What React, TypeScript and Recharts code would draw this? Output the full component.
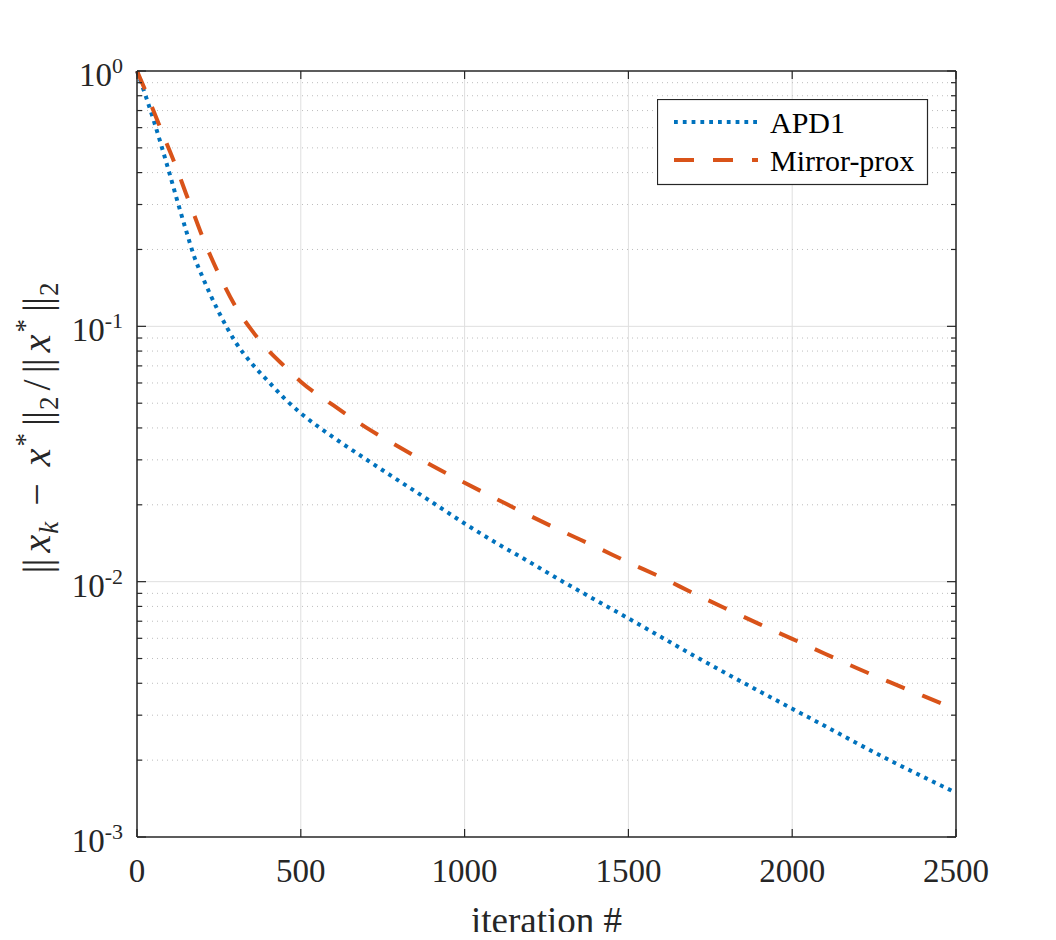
import React from "react";
import {
  LineChart,
  Line,
  XAxis,
  YAxis,
  CartesianGrid,
  ReferenceLine,
  Legend,
} from "recharts";

const ITERATIONS = [
  0, 25, 50, 75, 100, 125, 150, 175, 200, 250, 300, 350, 400, 450, 500, 600,
  700, 800, 900, 1000, 1100, 1200, 1300, 1400, 1500, 1600, 1700, 1800, 1900,
  2000, 2100, 2200, 2300, 2400, 2500,
];
const APD1 = [
  1, 0.809, 0.646, 0.507, 0.394, 0.304, 0.237, 0.187, 0.156, 0.1135, 0.0871,
  0.0716, 0.061, 0.0522, 0.0457, 0.0367, 0.0301, 0.0248, 0.0205, 0.0169,
  0.0141, 0.0119, 0.01, 0.00847, 0.00718, 0.00607, 0.00513, 0.00436, 0.00372,
  0.00318, 0.00272, 0.00232, 0.00199, 0.00172, 0.00149,
];
const MIRROR_PROX = [
  1, 0.841, 0.7, 0.582, 0.486, 0.403, 0.33, 0.272, 0.224, 0.16, 0.12, 0.0966,
  0.0807, 0.0698, 0.0607, 0.049, 0.0401, 0.0337, 0.0285, 0.0244, 0.021,
  0.0181, 0.0157, 0.0137, 0.0119, 0.0104, 0.00899, 0.00782, 0.00682, 0.00597,
  0.00522, 0.00457, 0.00403, 0.00357, 0.00316,
];
const X_TICKS = [0, 500, 1000, 1500, 2000, 2500];
const Y_MAJOR = [1, 0.1, 0.01, 0.001];
const Y_EXPONENTS = ["0", "-1", "-2", "-3"];
const Y_MINOR = [
  0.9, 0.8, 0.7, 0.6, 0.5, 0.4, 0.3, 0.2, 0.09, 0.08, 0.07, 0.06, 0.05, 0.04,
  0.03, 0.02, 0.009, 0.008, 0.007, 0.006, 0.005, 0.004, 0.003, 0.002,
];

const data = ITERATIONS.map((it, i) => ({
  iter: it,
  apd1: APD1[i],
  mirror: MIRROR_PROX[i],
}));

const FONT = '"Liberation Serif", "Times New Roman", serif';
const AXIS = "#262626";
const BLUE = "#0072BD";
const ORANGE = "#D95319";
const BLUE_DASH = "3.8 5";
const ORANGE_DASH = "20 19";

const YTick = (props: any) => {
  const { x, y, payload, side } = props;
  const idx = Y_MAJOR.indexOf(payload.value);
  const len = idx >= 0 ? 9 : 5;
  const dir = side === "left" ? 1 : -1;
  return (
    <g>
      <line x1={x} y1={y} x2={x + dir * len} y2={y} stroke={AXIS} strokeWidth={1.2} />
      {side === "left" && idx >= 0 && (
        <text x={x - 14} y={y + 15} textAnchor="end" fontFamily={FONT} fontSize={33} fill={AXIS}>
          10
          <tspan dy={-13} fontSize={22}>
            {Y_EXPONENTS[idx]}
          </tspan>
        </text>
      )}
    </g>
  );
};

const XTick = (props: any) => {
  const { x, y, payload, side } = props;
  const dir = side === "bottom" ? -1 : 1;
  return (
    <g>
      <line x1={x} y1={y} x2={x} y2={y + dir * 8} stroke={AXIS} strokeWidth={1.2} />
      {side === "bottom" && (
        <text x={x} y={y + 45} textAnchor="middle" fontFamily={FONT} fontSize={33} fill={AXIS}>
          {payload.value}
        </text>
      )}
    </g>
  );
};

const renderXLabel = (props: any) => {
  const vb = props.viewBox || { x: 129, y: 829, width: 819, height: 93 };
  return (
    <text
      x={vb.x + vb.width / 2}
      y={vb.y + 96}
      textAnchor="middle"
      fontFamily={FONT}
      fontSize={37}
      fill={AXIS}
    >
      iteration #
    </text>
  );
};

// ||x_k - x*||_2 / ||x*||_2, rotated
const renderYLabel = (props: any) => {
  const vb = props.viewBox || { x: 0, y: 63, width: 129, height: 766 };
  const cx = vb.x + 42;
  const cy = vb.y + vb.height / 2 - 26;
  const sub = 27;
  return (
    <text
      transform={`translate(${cx},${cy}) rotate(-90)`}
      textAnchor="middle"
      fontFamily={FONT}
      fontSize={40}
      fill={AXIS}
    >
      <tspan letterSpacing={-1}>||</tspan>
      <tspan fontStyle="italic" dx={7}>x</tspan>
      <tspan fontStyle="italic" fontSize={sub} dy={8} dx={1}>k</tspan>
      <tspan dy={-8} dx={16}>−</tspan>
      <tspan fontStyle="italic" dx={17}>x</tspan>
      <tspan fontSize={sub} dy={-16} dx={2}>*</tspan>
      <tspan dy={16} dx={7} letterSpacing={-1}>||</tspan>
      <tspan fontSize={sub} dy={8} dx={2}>2</tspan>
      <tspan dy={-8} dx={6}>/</tspan>
      <tspan dx={6} letterSpacing={-1}>||</tspan>
      <tspan fontStyle="italic" dx={7}>x</tspan>
      <tspan fontSize={sub} dy={-16} dx={2}>*</tspan>
      <tspan dy={16} dx={7} letterSpacing={-1}>||</tspan>
      <tspan fontSize={sub} dy={8} dx={2}>2</tspan>
    </text>
  );
};

const renderLegend = (props: any) => {
  const items = props.payload || [];
  return (
    <svg width={272} height={87} style={{ display: "block" }}>
      <rect x={0.5} y={0.5} width={270} height={85} fill="#ffffff" stroke={AXIS} strokeWidth={1.2} />
      {items.map((entry: any, i: number) => {
        const cy = 23 + i * 38;
        const dash = i === 0 ? BLUE_DASH : ORANGE_DASH;
        return (
          <g key={`leg-${i}`}>
            <line x1={17} y1={cy} x2={101} y2={cy} stroke={entry.color} strokeWidth={4} strokeDasharray={dash} />
            <text x={113} y={cy + 11} fontFamily={FONT} fontSize={30} fill="#000">
              {entry.value}
            </text>
          </g>
        );
      })}
    </svg>
  );
};

export default function App() {
  return (
    <div style={{ width: 1040, height: 932, marginBottom: -8, background: "#fff" }}>
      <LineChart
        width={1040}
        height={932}
        data={data}
        margin={{ top: 53, right: 82, left: 0, bottom: 10 }}
      >
        <CartesianGrid xAxisId="b" yAxisId="l" horizontal={false} stroke="#dfdfdf" strokeWidth={1} />
        {Y_MINOR.map((v) => (
          <ReferenceLine
            key={`minor-${v}`}
            xAxisId="b"
            yAxisId="l"
            y={v}
            stroke="#bdbdbd"
            strokeWidth={1}
            strokeDasharray="1 4"
          />
        ))}
        {Y_MAJOR.filter((v) => v < 1 && v > 0.001).map((v) => (
          <ReferenceLine key={`major-${v}`} xAxisId="b" yAxisId="l" y={v} stroke="#dfdfdf" strokeWidth={1} />
        ))}
        <XAxis
          xAxisId="b"
          dataKey="iter"
          type="number"
          domain={[0, 2500]}
          ticks={X_TICKS}
          interval={0}
          height={93}
          tickSize={0}
          tickMargin={0}
          tickLine={false}
          axisLine={{ stroke: AXIS, strokeWidth: 1.5 }}
          tick={<XTick side="bottom" />}
          label={renderXLabel}
        />
        <XAxis
          xAxisId="t"
          orientation="top"
          dataKey="iter"
          type="number"
          domain={[0, 2500]}
          ticks={X_TICKS}
          interval={0}
          height={10}
          tickSize={0}
          tickMargin={0}
          tickLine={false}
          axisLine={{ stroke: AXIS, strokeWidth: 1.5 }}
          tick={<XTick side="top" />}
        />
        <YAxis
          yAxisId="l"
          scale="log"
          type="number"
          domain={[0.001, 1]}
          allowDataOverflow
          ticks={[...Y_MAJOR, ...Y_MINOR]}
          interval={0}
          width={129}
          tickSize={0}
          tickMargin={0}
          tickLine={false}
          axisLine={{ stroke: AXIS, strokeWidth: 1.5 }}
          tick={<YTick side="left" />}
          label={renderYLabel}
        />
        <YAxis
          yAxisId="r"
          orientation="right"
          scale="log"
          type="number"
          domain={[0.001, 1]}
          allowDataOverflow
          ticks={[...Y_MAJOR, ...Y_MINOR]}
          interval={0}
          width={10}
          tickSize={0}
          tickMargin={0}
          tickLine={false}
          axisLine={{ stroke: AXIS, strokeWidth: 1.5 }}
          tick={<YTick side="right" />}
        />
        <Line
          xAxisId="b"
          yAxisId="l"
          type="monotone"
          dataKey="apd1"
          name="APD1"
          stroke={BLUE}
          strokeWidth={4}
          strokeDasharray={BLUE_DASH}
          dot={false}
          activeDot={false}
          isAnimationActive={false}
        />
        <Line
          xAxisId="b"
          yAxisId="l"
          type="monotone"
          dataKey="mirror"
          name="Mirror-prox"
          stroke={ORANGE}
          strokeWidth={4}
          strokeDasharray={ORANGE_DASH}
          dot={false}
          activeDot={false}
          isAnimationActive={false}
        />
        <Legend
          layout="horizontal"
          verticalAlign="middle"
          align="center"
          content={renderLegend}
          wrapperStyle={{ position: "absolute", left: 649, top: 91, width: 272, height: 87 }}
        />
      </LineChart>
    </div>
  );
}
